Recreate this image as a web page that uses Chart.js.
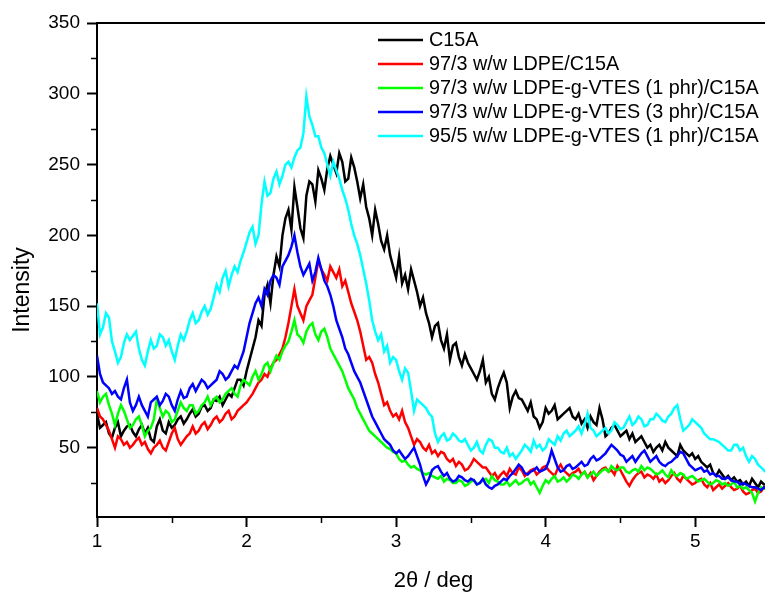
<!DOCTYPE html>
<html>
<head>
    <title>XRD C15A</title>
    <style>
        html, body { margin: 0; overflow: hidden; background: #fff; }
        canvas { display: block; }
    </style>
</head>
<body>
    <canvas id="xrd" width="772" height="594"></canvas>
    <script src="https://cdn.jsdelivr.net/npm/chart.js@4.4.0/dist/chart.umd.min.js"></script>
    <script>
        // 2theta (deg)
        const xs = [
            1.00,1.02,1.04,1.06,1.08,1.10,1.12,1.14,1.16,1.18,1.20,1.22,1.24,1.26,1.28,1.30,1.32,1.34,1.36,1.38,
            1.40,1.42,1.44,1.46,1.48,1.50,1.52,1.54,1.56,1.58,1.60,1.62,1.64,1.66,1.68,1.70,1.72,1.74,1.76,1.78,
            1.80,1.82,1.84,1.86,1.88,1.90,1.92,1.94,1.96,1.98,2.00,2.02,2.04,2.06,2.08,2.10,2.12,2.14,2.16,2.18,
            2.20,2.22,2.24,2.26,2.28,2.30,2.32,2.34,2.36,2.38,2.40,2.42,2.44,2.46,2.48,2.50,2.52,2.54,2.56,2.58,
            2.60,2.62,2.64,2.66,2.68,2.70,2.72,2.74,2.76,2.78,2.80,2.82,2.84,2.86,2.88,2.90,2.92,2.94,2.96,2.98,
            3.00,3.02,3.04,3.06,3.08,3.10,3.12,3.14,3.16,3.18,3.20,3.22,3.24,3.26,3.28,3.30,3.32,3.34,3.36,3.38,
            3.40,3.42,3.44,3.46,3.48,3.50,3.52,3.54,3.56,3.58,3.60,3.62,3.64,3.66,3.68,3.70,3.72,3.74,3.76,3.78,
            3.80,3.82,3.84,3.86,3.88,3.90,3.92,3.94,3.96,3.98,4.00,4.02,4.04,4.06,4.08,4.10,4.12,4.14,4.16,4.18,
            4.20,4.22,4.24,4.26,4.28,4.30,4.32,4.34,4.36,4.38,4.40,4.42,4.44,4.46,4.48,4.50,4.52,4.54,4.56,4.58,
            4.60,4.62,4.64,4.66,4.68,4.70,4.72,4.74,4.76,4.78,4.80,4.82,4.84,4.86,4.88,4.90,4.92,4.94,4.96,4.98,
            5.00,5.02,5.04,5.06,5.08,5.10,5.12,5.14,5.16,5.18,5.20,5.22,5.24,5.26,5.28,5.30,5.32,5.34,5.36,5.38,
            5.40,5.42,5.44,5.46,5.48
        ];

        const c15a = [
            74,64,66,68,60,57,64,68,58,62,65,66,61,58,63,66,60,64,56,54,
            65,70,62,60,68,64,66,70,72,67,70,74,77,72,74,79,80,76,78,84,
            83,86,80,84,88,86,92,98,98,94,104,112,120,128,140,136,158,165,152,172,
            185,178,200,212,218,204,234,220,205,198,228,238,236,224,246,240,232,247,256,250,
            244,258,252,238,240,255,248,238,226,236,220,212,200,218,208,196,190,200,186,178,
            170,185,166,172,162,176,168,160,150,156,145,138,128,136,138,126,120,130,112,122,
            124,114,108,116,110,106,102,98,104,112,96,100,88,84,92,98,103,96,78,86,
            90,85,84,80,76,82,72,70,64,68,78,74,76,80,70,72,74,76,78,72,
            70,74,67,70,64,72,68,66,78,70,58,60,64,66,62,58,60,62,56,60,
            54,56,58,54,50,52,47,50,52,48,54,50,48,46,44,52,48,46,44,46,
            42,44,40,38,36,38,32,30,34,31,28,30,27,29,26,27,24,26,23,28,
            25,22,26,24,24
        ];
        const ldpe3 = [
            78,72,70,66,62,56,50,58,56,52,54,50,52,55,57,52,54,49,46,50,
            52,55,50,48,54,60,64,56,52,55,58,60,65,60,62,66,68,63,66,70,
            72,68,70,74,76,70,72,76,78,80,82,85,88,92,96,98,102,100,106,110,
            112,116,120,128,138,150,162,150,145,140,150,154,158,170,182,176,172,168,178,174,
            170,176,164,168,160,152,146,140,132,122,112,114,110,102,96,88,80,82,76,72,
            74,70,76,68,64,58,52,56,54,50,48,52,46,48,44,47,46,42,40,42,
            37,40,38,34,35,38,42,40,38,36,36,33,30,32,28,31,33,30,35,32,
            31,36,34,30,32,34,35,31,33,36,37,34,32,30,35,38,34,32,30,32,
            33,35,31,33,29,32,27,30,33,35,36,33,34,31,37,34,30,26,23,27,
            30,32,33,29,31,30,28,31,26,28,25,27,30,32,28,26,30,28,26,24,
            25,27,28,24,22,25,20,22,24,21,23,25,22,20,21,23,19,17,18,20,
            21,18,19,22,20
        ];
        const vtes1 = [
            90,82,86,88,80,74,66,74,80,76,70,64,66,70,72,66,58,62,64,70,
            84,78,72,76,74,68,70,76,82,78,76,80,80,74,76,80,82,86,80,84,
            86,82,84,88,90,92,88,86,94,98,96,94,100,104,98,102,108,110,104,110,
            115,112,118,122,125,132,140,130,128,124,132,136,138,130,126,132,134,128,120,116,
            112,108,104,98,92,88,84,78,74,70,66,62,60,58,56,54,52,50,49,47,
            46,42,40,41,38,36,37,35,34,32,31,32,30,29,28,30,26,28,27,25,
            25,27,26,23,24,26,27,24,25,27,28,25,30,27,26,24,24,26,23,25,
            27,24,25,27,28,24,26,22,18,23,27,25,28,30,26,27,29,26,28,31,
            30,28,31,33,29,31,33,30,32,34,35,33,37,35,34,36,36,33,32,34,
            35,33,37,34,36,35,33,31,32,34,31,29,34,31,30,32,31,28,29,30,
            28,26,27,28,26,24,25,27,26,24,25,23,24,26,22,23,21,22,20,18,
            12,18,22,21,24
        ];
        const vtes3 = [
            115,102,96,94,92,88,90,86,84,92,98,82,76,80,86,80,76,72,82,84,
            86,80,83,88,86,80,76,84,90,85,86,92,95,90,94,98,96,92,94,96,
            98,104,102,98,100,104,108,106,112,118,128,138,145,152,156,150,162,158,168,172,
            170,165,178,182,186,192,200,188,178,172,176,180,168,174,184,176,168,164,158,150,
            140,134,128,120,116,110,104,100,96,90,84,78,72,68,64,60,56,54,52,48,
            46,48,45,42,44,47,50,44,38,30,24,28,34,36,37,33,30,32,28,26,
            27,30,29,27,26,28,27,24,25,28,24,22,21,23,24,26,28,27,30,32,
            35,38,36,32,31,33,34,36,33,34,35,40,48,42,36,33,34,37,38,35,
            36,38,40,37,38,42,44,41,42,44,46,49,52,50,48,45,44,40,42,44,
            40,43,46,48,44,40,42,44,40,38,37,39,40,42,44,47,46,42,38,36,
            34,35,36,33,34,31,32,30,30,28,28,29,27,26,26,24,25,24,23,22,
            22,21,20,22,21
        ];
        const vtes1_5 = [
            152,130,135,145,142,125,118,110,114,124,130,126,129,132,120,112,108,118,126,120,
            122,130,128,122,126,118,112,122,130,126,132,140,145,138,140,146,150,144,148,156,
            165,160,170,175,164,172,178,174,182,188,195,202,206,194,200,222,238,228,230,240,
            245,236,242,250,252,248,255,260,262,272,298,284,278,270,270,262,258,250,242,252,
            246,240,232,226,218,208,200,194,186,176,166,154,140,132,126,130,118,122,110,114,
            112,104,98,106,103,90,76,84,82,80,78,74,72,60,54,58,60,55,56,60,
            58,55,54,56,52,48,50,54,48,46,52,56,55,50,50,47,46,50,44,46,
            42,45,48,52,50,47,55,50,52,48,50,56,54,52,58,55,60,62,58,60,
            62,65,60,66,74,64,62,58,60,62,64,60,62,68,66,63,64,68,72,66,
            68,72,70,65,66,70,70,74,72,69,68,72,74,78,80,70,62,64,66,70,
            68,66,64,60,58,56,56,55,54,52,50,48,48,52,52,48,50,44,40,44,
            42,38,36,34,32
        ];

        const labels = [
            'C15A',
            '97/3 w/w LDPE/C15A',
            '97/3 w/w LDPE-g-VTES (1 phr)/C15A',
            '97/3 w/w LDPE-g-VTES (3 phr)/C15A',
            '95/5 w/w LDPE-g-VTES (1 phr)/C15A'
        ];
        const colors = ['#000000', '#ff0000', '#00ff00', '#0000ff', '#00ffff'];
        const series = [c15a, ldpe3, vtes1, vtes3, vtes1_5];

        const xMajor = [1, 2, 3, 4, 5];
        const xMinor = [1.5, 2.5, 3.5, 4.5];
        const yMajor = [50, 100, 150, 200, 250, 300, 350];
        const yMinor = [25, 75, 125, 175, 225, 275, 325];

        const FONT = "'Liberation Sans', Arial, sans-serif";

        // cadre du haut, petites graduations, titre Y, légende
        const extras = {
            id: 'extras',
            afterDraw(chart) {
                const { ctx, chartArea: a, scales: { x, y } } = chart;
                ctx.save();
                ctx.strokeStyle = '#000';
                ctx.lineWidth = 2;
                ctx.beginPath();
                ctx.moveTo(a.left - 1, a.top);
                ctx.lineTo(a.right + 2, a.top);
                ctx.stroke();

                ctx.lineWidth = 1.5;
                ctx.beginPath();
                xMinor.forEach(v => {
                    const px = Math.round(x.getPixelForValue(v)) + 0.5;
                    ctx.moveTo(px, a.bottom);
                    ctx.lineTo(px, a.bottom + 6);
                });
                yMinor.forEach(v => {
                    const py = Math.round(y.getPixelForValue(v)) + 0.5;
                    ctx.moveTo(a.left, py);
                    ctx.lineTo(a.left - 6, py);
                });
                ctx.stroke();

                // titre axe Y
                ctx.fillStyle = '#000';
                ctx.font = '23px ' + FONT;
                ctx.textAlign = 'center';
                ctx.textBaseline = 'middle';
                ctx.translate(23, 290);
                ctx.rotate(-Math.PI / 2);
                ctx.fillText('Intensity', 0, 0);
                ctx.setTransform(1, 0, 0, 1, 0, 0);

                // légende
                ctx.font = '19.8px ' + FONT;
                ctx.textAlign = 'left';
                chart.data.datasets.forEach((ds, i) => {
                    const ly = 40 + 24 * i;
                    ctx.strokeStyle = ds.borderColor;
                    ctx.lineWidth = 2.5;
                    ctx.beginPath();
                    ctx.moveTo(378, ly);
                    ctx.lineTo(423, ly);
                    ctx.stroke();
                    ctx.fillText(ds.label, 429, ly + 1);
                });
                ctx.restore();
            }
        };

        const datasets = series.map((s, i) => ({
            label: labels[i],
            data: s.map((v, k) => ({ x: xs[k], y: v })),
            borderColor: colors[i],
            borderWidth: 2.5,
            pointRadius: 0,
            tension: 0,
            order: series.length - i
        }));

        new Chart(document.getElementById('xrd'), {
            type: 'line',
            data: { datasets },
            options: {
                responsive: false,
                animation: false,
                layout: { padding: { top: 23, right: 2, left: 0, bottom: 0 } },
                plugins: { legend: { display: false }, tooltip: { enabled: false } },
                scales: {
                    x: {
                        type: 'linear',
                        min: 1,
                        max: 5.5,
                        afterBuildTicks: s => { s.ticks = xMajor.map(v => ({ value: v })); },
                        afterFit: s => { s.height = 77; },
                        border: { display: true, color: '#000', width: 2 },
                        grid: { drawOnChartArea: false, drawTicks: true, tickLength: 10, tickWidth: 2, tickColor: '#000' },
                        ticks: { color: '#000', font: { family: FONT, size: 19 }, padding: 3, maxRotation: 0 },
                        title: { display: true, text: '2\u03b8 / deg', color: '#000', font: { family: FONT, size: 22 }, padding: { top: 0, bottom: 0 } }
                    },
                    y: {
                        min: 1,
                        max: 350,
                        afterBuildTicks: s => { s.ticks = yMajor.map(v => ({ value: v })); },
                        afterFit: s => { s.width = 97; },
                        border: { display: true, color: '#000', width: 2 },
                        grid: { drawOnChartArea: false, drawTicks: true, tickLength: 10, tickWidth: 2, tickColor: '#000' },
                        ticks: { color: '#000', font: { family: FONT, size: 19 }, padding: 7 }
                    }
                }
            },
            plugins: [extras]
        });
    </script>
</body>
</html>
